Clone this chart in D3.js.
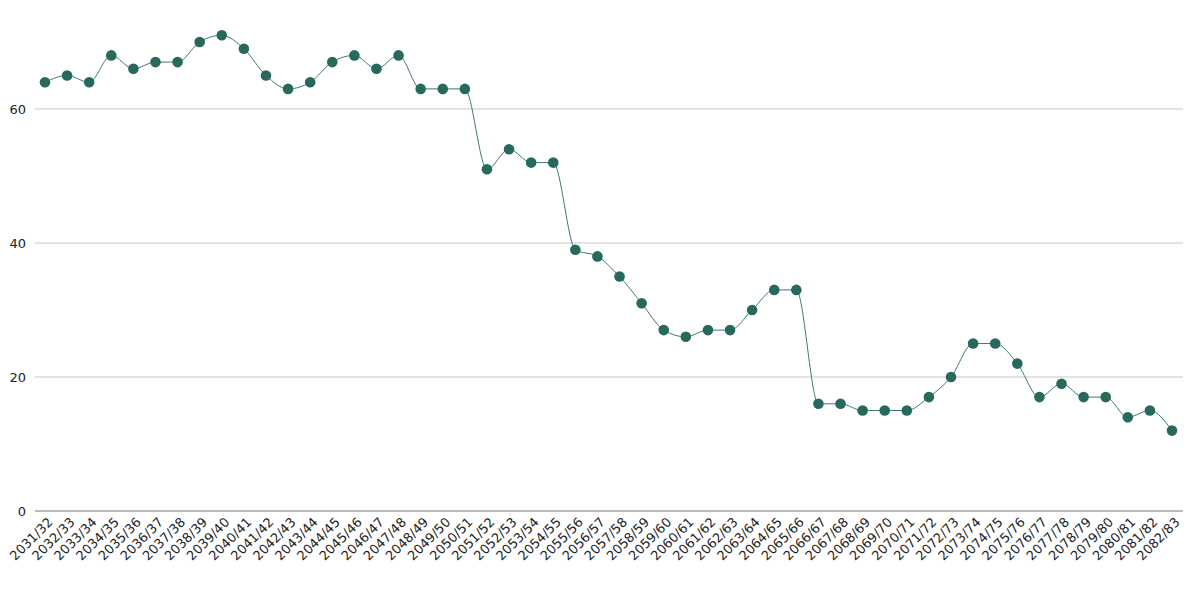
<!DOCTYPE html>
<html>
<head>
<meta charset="utf-8">
<script src="https://cdn.jsdelivr.net/npm/d3@7"></script>
<style>
  body { margin: 0; background: #fff; }
  text { font-family: "DejaVu Sans", sans-serif; fill: #222; }
</style>
</head>
<body>
<svg width="1200" height="600"></svg>
<script>
// Data
const years = ['2031/32', '2032/33', '2033/34', '2034/35', '2035/36', '2036/37', '2037/38', '2038/39',
	'2039/40', '2040/41', '2041/42', '2042/43', '2043/44', '2044/45', '2045/46', '2046/47', '2047/48',
	'2048/49', '2049/50', '2050/51', '2051/52', '2052/53', '2053/54', '2054/55', '2055/56', '2056/57',
	'2057/58', '2058/59', '2059/60', '2060/61', '2061/62', '2062/63', '2063/64', '2064/65', '2065/66',
	'2066/67', '2067/68', '2068/69', '2069/70', '2070/71', '2071/72', '2072/73', '2073/74', '2074/75',
	'2075/76', '2076/77', '2077/78', '2078/79', '2079/80', '2080/81', '2081/82', '2082/83'];
const values = [64, 65, 64, 68, 66, 67, 67, 70, 71, 69, 65, 63, 64, 67, 68, 66, 68, 63, 63, 63,
	51, 54, 52, 52, 39, 38, 35, 31, 27, 26, 27, 27, 30, 33, 33, 16, 16, 15, 15, 15, 17, 20, 25, 25,
	22, 17, 19, 17, 17, 14, 15, 12];
const yTicks = [0, 20, 40, 60];

const data = years.map((y, i) => ({ year: y, value: values[i] }));

const svg = d3.select('svg');
const left = 35, right = 1183;

const x = d3.scalePoint().domain(years).range([45, 1172]);
const y = d3.scaleLinear().domain([0, 60]).range([511, 109]);

// gridlines
svg.append('g')
	.selectAll('line')
	.data(yTicks.filter((d) => d > 0))
	.join('line')
	.attr('x1', left)
	.attr('x2', right)
	.attr('y1', (d) => y(d))
	.attr('y2', (d) => y(d))
	.attr('stroke', '#c8c8c8')
	.attr('stroke-width', 1);

// y labels
svg.append('g')
	.selectAll('text')
	.data(yTicks)
	.join('text')
	.attr('x', 26)
	.attr('y', (d) => y(d))
	.attr('dy', '0.35em')
	.attr('text-anchor', 'end')
	.style('font-size', '13px')
	.text((d) => d);

// baseline
svg.append('line')
	.attr('x1', left)
	.attr('x2', right)
	.attr('y1', y(0))
	.attr('y2', y(0))
	.attr('stroke', '#777')
	.attr('stroke-width', 1);

// x labels
const xAxis = d3.axisBottom(x).tickSize(0).tickPadding(0);
const gx = svg.append('g')
	.attr('transform', `translate(0,${y(0)})`)
	.call(xAxis);
gx.select('.domain').remove();
gx.selectAll('text')
	.attr('text-anchor', 'end')
	.attr('dy', 0)
	.attr('y', 0)
	.attr('transform', 'translate(8,12) rotate(-45)')
	.style('font-family', '"DejaVu Sans", sans-serif')
	.style('font-size', '13px')
	.style('fill', '#222');

// line
const line = d3.line()
	.x((d) => x(d.year))
	.y((d) => y(d.value))
	.curve(d3.curveMonotoneX);

svg.append('path')
	.datum(data)
	.attr('fill', 'none')
	.attr('stroke', '#3f7a6f')
	.attr('stroke-width', 1)
	.attr('d', line);

// dots
svg.append('g')
	.selectAll('circle')
	.data(data)
	.join('circle')
	.attr('cx', (d) => x(d.year))
	.attr('cy', (d) => y(d.value))
	.attr('r', 5.3)
	.attr('fill', '#27695c');
</script>
</body>
</html>
